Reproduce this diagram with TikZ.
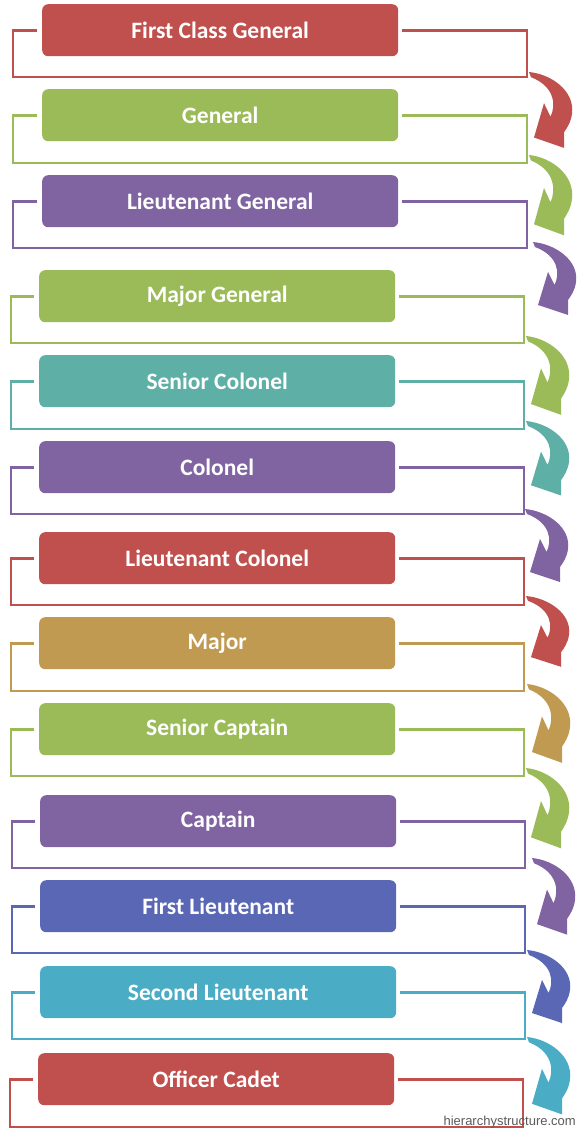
\documentclass[tikz,border=0pt]{standalone}
\usepackage{fontspec}
\setmainfont{Carlito}
\newfontfamily\wmfont{Liberation Sans}
\definecolor{cRed}{HTML}{C0504D}
\definecolor{cGreen}{HTML}{9BBB59}
\definecolor{cPurple}{HTML}{8064A2}
\definecolor{cTeal}{HTML}{5EAFA6}
\definecolor{cTan}{HTML}{C19A52}
\definecolor{cBlue}{HTML}{5967B5}
\definecolor{cCyan}{HTML}{4BACC6}
\definecolor{cMark}{HTML}{5A5A5A}
\tikzset{
  rankbox/.style={rounded corners=6pt, minimum width=356pt, minimum height=52pt,
    inner sep=0pt, text=white, font=\fontsize{23.5}{26}\selectfont\bfseries, anchor=north west},
  bracketline/.style={line width=2.8pt},
  pics/turnarrow/.style={code={
    \fill[pic actions] (0,0) .. controls (22,2) and (46,18) .. (43,40)
      .. controls (42,48) and (38,54) .. (35,58)
      -- (35,73) -- (5,63) -- (15,30) -- (21.5,43)
      .. controls (27,32) and (26,14) .. (2,5) -- cycle;
  }}
}
\begin{document}
\begin{tikzpicture}[x=1pt,y=-1pt]
\useasboundingbox (0,0) rectangle (576,1131);
% rows: name, color, box x, box y, left, right, bottom, text
\foreach \n/\col/\bx/\by/\L/\R/\B/\txt in {
  1/cRed/42/4/13/527/77/First Class General,
  2/cGreen/42/89/13/527/163/General,
  3/cPurple/42/175/13/527/248/Lieutenant General,
  4/cGreen/39/270/11/524/343/Major General,
  5/cTeal/39/355/11/524/429/Senior Colonel,
  6/cPurple/39/441/11/524/514/Colonel,
  7/cRed/39/532/11/524/605/Lieutenant Colonel,
  8/cTan/39/617/11/524/691/Major,
  9/cGreen/39/703/11/524/776/Senior Captain,
  10/cPurple/40/795/12/525/868/Captain,
  11/cBlue/40/880/12/525/953/First Lieutenant,
  12/cCyan/40/966/12/525/1039/Second Lieutenant,
  13/cRed/38/1053/10/523/1127/Officer Cadet}{
  \node[rankbox, fill=\col] (r\n) at (\bx,\by) {\txt};
  \coordinate (c\n) at (\R,\B);
  \draw[bracketline, draw=\col] ([xshift=-5pt]r\n.west) -- (\L,0 |- r\n.west) -- (\L,\B)
     -- (c\n) -- (\R,0 |- r\n.east) -- ([xshift=4pt]r\n.east);
}
% curved arrows from each bracket corner to the next bracket
\foreach \n/\col/\dx/\dy/\ys in {1/cRed/2/-5/1.04, 2/cGreen/2/-8/1.1, 3/cPurple/6/-6/1.0,
  4/cGreen/2/-7/1.08, 5/cTeal/2/-8/1.02, 6/cPurple/1/-5/1.0, 7/cRed/2/-9/0.97,
  8/cTan/3/-7/1.08, 9/cGreen/2/-8/1.1, 10/cPurple/7/-10/1.05, 11/cBlue/2/-3/1.0,
  12/cCyan/2/-2/1.06}{
  \pic[fill=\col, yscale=\ys] at ([shift={(\dx,\dy)}]c\n) {turnarrow};
}
\node[font=\wmfont\fontsize{13}{15}\selectfont, text=cMark, anchor=south east, inner sep=0pt] (wm) at (576,1128) {hierarchystructure.com};
\end{tikzpicture}
\end{document}
